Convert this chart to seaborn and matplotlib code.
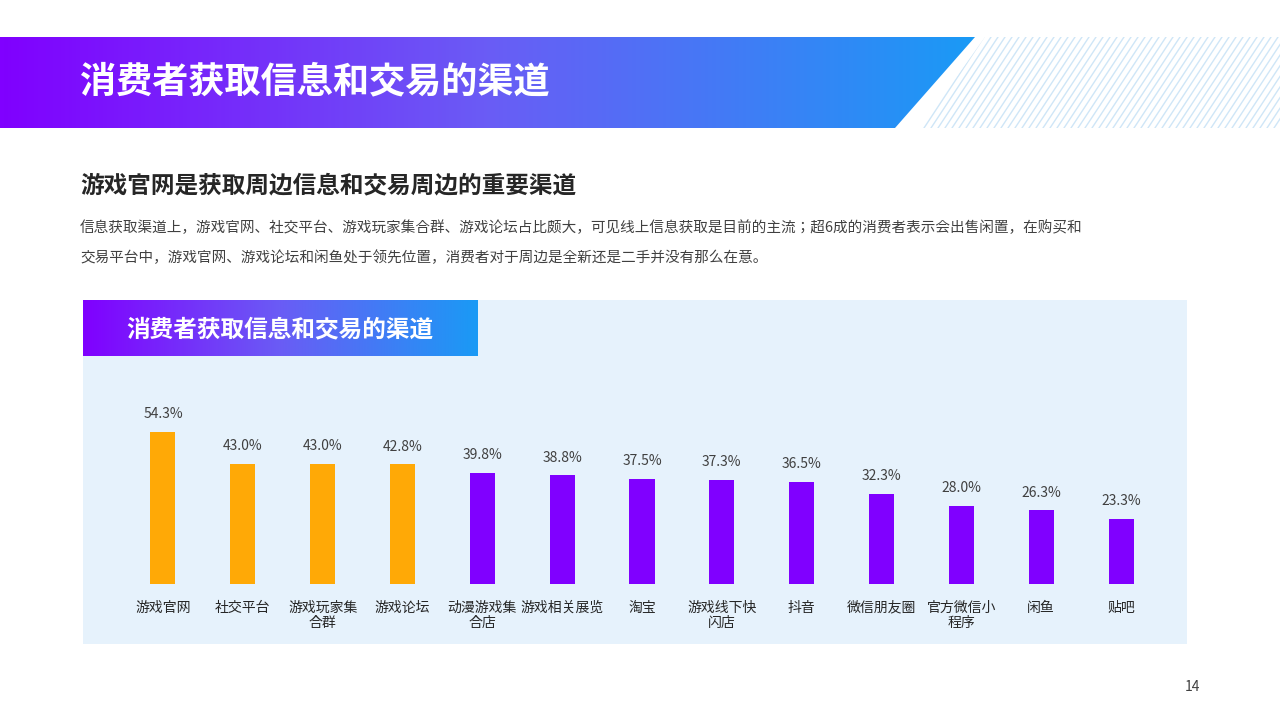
import numpy as np
import pandas as pd
import matplotlib
matplotlib.use("Agg")
import matplotlib.pyplot as plt
from matplotlib import font_manager
import seaborn as sns
from matplotlib.colors import LinearSegmentedColormap
from matplotlib.patches import Polygon, Rectangle

cjk = None
for pref in ["Noto Sans CJK SC", "Noto Sans CJK JP", "Noto Sans CJK TC", "Noto Sans CJK KR"]:
    for f in font_manager.fontManager.ttflist:
        if f.name == pref:
            cjk = f.name
            break
    if cjk:
        break
if cjk is None:
    for f in font_manager.fontManager.ttflist:
        if "CJK" in f.name:
            cjk = f.name
            break
plt.rcParams["font.family"] = "sans-serif"
plt.rcParams["font.sans-serif"] = [cjk or "Noto Sans CJK SC", "DejaVu Sans"]

categories = ["游戏官网", "社交平台", "游戏玩家集\n合群", "游戏论坛", "动漫游戏集\n合店", "游戏相关展览",
              "淘宝", "游戏线下快\n闪店", "抖音", "微信朋友圈", "官方微信小\n程序", "闲鱼", "贴吧"]
values = [54.3, 43.0, 43.0, 42.8, 39.8, 38.8, 37.5, 37.3, 36.5, 32.3, 28.0, 26.3, 23.3]
highlight = [True, True, True, True] + [False] * 9

W, H = 1280, 720
fig = plt.figure(figsize=(12.8, 7.2), dpi=100)
fig.patch.set_facecolor("white")
bg = fig.add_axes([0, 0, 1, 1])
bg.set_xlim(0, W); bg.set_ylim(H, 0); bg.axis("off")

cmap = LinearSegmentedColormap.from_list("g", ["#8000ff", "#6a5cf5", "#1a9af5"])
grad = np.linspace(0, 1, 256).reshape(1, -1)

im = bg.imshow(grad, cmap=cmap, extent=[0, 975, 128, 37], aspect="auto", zorder=1)
poly = Polygon([[0, 37], [975, 37], [895, 128], [0, 128]], closed=True, transform=bg.transData)
im.set_clip_path(poly)
stripe_clip = Polygon([[985, 37], [1280, 37], [1280, 128], [920, 128]], closed=True, transform=bg.transData)
for x0 in np.arange(900, 1400, 7):
    ln, = bg.plot([x0, x0 - 60], [37, 128], color="#cfe6f7", lw=1, zorder=1)
    ln.set_clip_path(stripe_clip)
bg.text(80, 82, "消费者获取信息和交易的渠道", color="white", fontsize=26, fontweight="bold", va="center", zorder=3)

bg.text(80, 185, "游戏官网是获取周边信息和交易周边的重要渠道", color="#262626", fontsize=17, fontweight="bold", va="center")
bg.text(80, 228, "信息获取渠道上，游戏官网、社交平台、游戏玩家集合群、游戏论坛占比颇大，可见线上信息获取是目前的主流；超6成的消费者表示会出售闲置，在购买和",
        color="#404040", fontsize=10.5, va="center")
bg.text(80, 258, "交易平台中，游戏官网、游戏论坛和闲鱼处于领先位置，消费者对于周边是全新还是二手并没有那么在意。",
        color="#404040", fontsize=10.5, va="center")

bg.add_patch(Rectangle((83, 300), 1104, 344, facecolor="#e6f2fc", edgecolor="none", zorder=0))
bg.imshow(grad, cmap=cmap, extent=[83, 478, 356, 300], aspect="auto", zorder=1)
bg.text(280, 329, "消费者获取信息和交易的渠道", color="white", fontsize=17, fontweight="bold", va="center", ha="center", zorder=3)
bg.text(1192, 687, "14", color="#404040", fontsize=10, ha="center", va="center")

scale = 2.8
top_px = 384
ax = fig.add_axes([123 / W, 1 - 584 / H, (1161 - 123) / W, (584 - top_px) / H])
ax.set_facecolor("none")
df = pd.DataFrame({"cat": categories, "val": values,
                   "grp": ["h" if h else "n" for h in highlight]})
sns.barplot(data=df, x="cat", y="val", hue="grp", palette={"h": "#ffa906", "n": "#8000ff"},
            dodge=False, width=0.315, ax=ax, legend=False, saturation=1)
ax.set_xlim(-0.5, 12.5)
ax.set_ylim(0, (584 - top_px) / scale)
for i, v in enumerate(values):
    ax.text(i, v + 3.8, f"{v:.1f}%", ha="center", va="bottom", fontsize=10, color="#404040")
ax.set_xlabel(""); ax.set_ylabel("")
ax.set_yticks([])
ax.tick_params(axis="x", length=0, pad=12, labelsize=10, labelcolor="#262626")
for lab in ax.get_xticklabels():
    lab.set_linespacing(1.1); lab.set_va("top")
for s in ax.spines.values():
    s.set_visible(False)

fig.savefig("out.png", dpi=100)
